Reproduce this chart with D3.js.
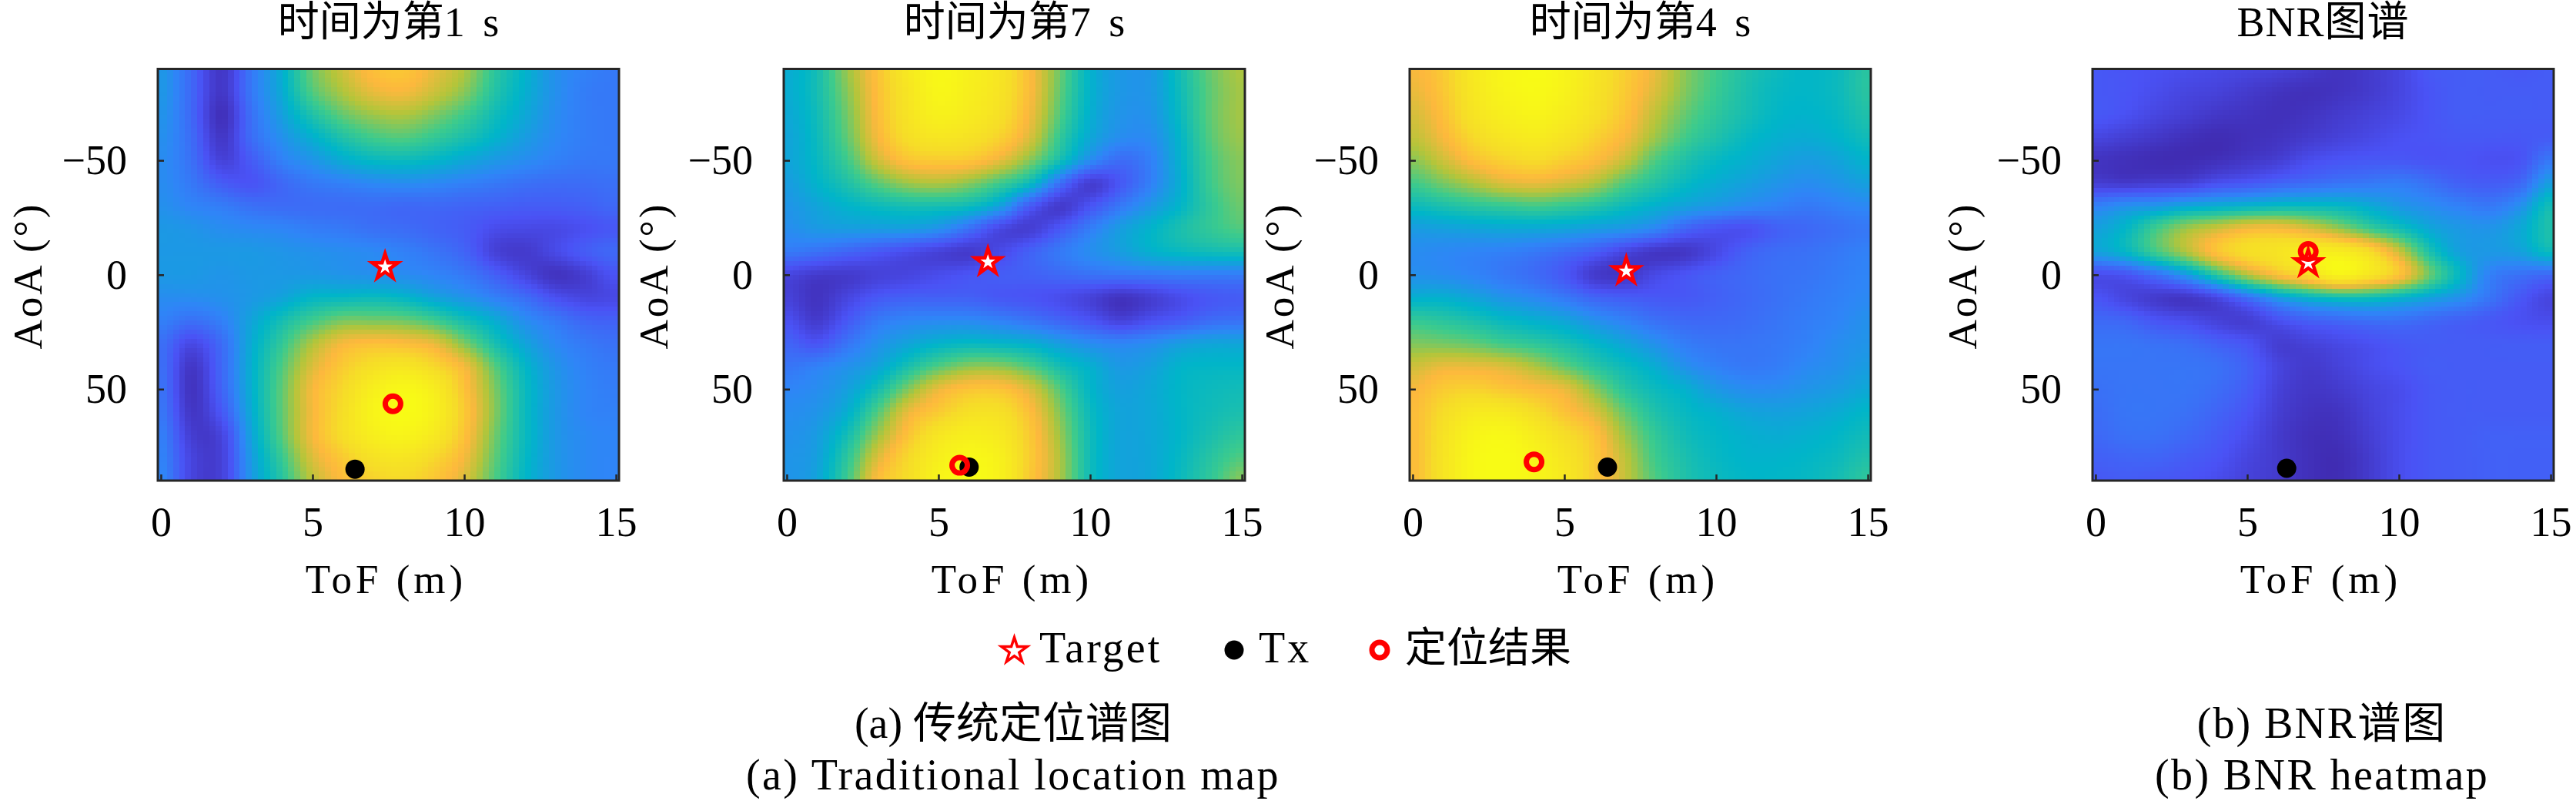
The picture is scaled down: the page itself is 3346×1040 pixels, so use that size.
<!DOCTYPE html>
<html>
<head>
<meta charset="utf-8">
<script src="https://cdn.jsdelivr.net/npm/d3@7"></script>
<style>
  html, body { margin: 0; background: #fff; }
  text { font-family: "Liberation Serif", "Noto Sans CJK SC", serif; fill: #000; }
</style>
</head>
<body>
<script>
// values, 0-100 on the colour scale
// rows go -90 to 90 every 10 deg, columns 0 to 15 every 1 m
const aoaValues = d3.range(-90, 91, 10)
const tofValues = d3.range(0, 16, 1)

const map1s = [
  [30,18,5,22,36,55,66,75,77,70,62,47,37,28,24,22],
  [30,18,5,22,35,52,62,70,72,66,58,45,36,28,23,22],
  [29,18,3,20,32,44,54,60,62,57,50,41,34,27,23,22],
  [28,19,5,19,28,36,44,50,52,48,43,37,31,26,23,22],
  [27,20,8,15,24,29,35,39,40,38,34,30,27,24,22,22],
  [27,22,15,13,18,22,24,26,27,26,24,22,20,19,19,20],
  [28,25,23,20,19,19,19,19,18,18,17,16,15,15,16,18],
  [30,29,27,26,25,23,22,20,19,17,15,11,10,10,12,14],
  [30,30,30,30,29,28,27,26,24,21,17,8,6,10,15,18],
  [30,30,29,30,30,30,29,28,27,25,22,16,9,4,7,13],
  [27,27,28,30,33,38,39,40,38,33,29,24,19,12,9,10],
  [24,20,24,33,42,50,56,56,55,50,42,35,27,22,17,16],
  [20,10,19,35,48,62,72,75,74,70,57,43,33,26,22,20],
  [20,5,18,36,52,68,78,85,88,82,72,53,38,29,24,22],
  [21,4,17,36,54,72,82,93,98,92,76,57,40,30,25,23],
  [22,5,14,35,54,72,84,96,100,94,78,58,40,30,25,24],
  [24,7,9,33,53,72,84,93,96,90,76,56,40,30,26,25],
  [25,9,8,31,49,68,78,86,88,82,72,54,39,30,26,25],
  [26,9,8,30,46,64,74,80,82,77,68,52,38,30,26,25]
]

const map7s = [
  [35,42,60,76,90,98,94,88,74,55,37,30,30,42,55,62],
  [35,42,58,75,88,97,93,87,74,54,37,30,30,41,54,61],
  [34,41,56,74,87,94,91,85,72,52,36,29,29,40,54,61],
  [33,40,54,72,84,88,86,80,68,48,34,27,27,38,53,60],
  [33,39,50,66,76,78,77,70,58,42,27,19,24,37,51,58],
  [31,37,44,53,60,62,58,50,40,20,7,14,24,36,50,57],
  [29,33,37,40,42,42,40,32,15,6,13,22,30,38,48,55],
  [27,30,31,31,31,28,20,10,7,14,23,31,37,43,48,52],
  [22,20,17,14,11,8,6,10,16,22,27,31,36,39,41,42],
  [9,6,6,8,9,11,13,15,16,18,20,21,22,23,23,23],
  [8,4,9,14,16,16,16,14,13,11,8,4,7,11,14,15],
  [12,6,14,22,25,26,26,24,21,17,13,8,12,15,19,20],
  [17,13,21,28,33,37,39,38,36,31,27,25,27,31,33,33],
  [21,24,28,33,43,52,58,58,52,42,36,30,32,37,38,38],
  [25,27,32,42,57,70,76,76,68,52,38,32,34,38,40,41],
  [27,29,36,52,70,78,85,85,75,57,40,33,34,38,41,43],
  [28,31,42,60,76,88,93,90,78,60,41,33,34,38,43,47],
  [29,32,47,68,82,93,98,94,79,62,41,33,34,39,46,52],
  [29,33,50,74,84,96,100,95,78,62,41,33,34,40,48,58]
]

const map4s = [
  [72,78,90,97,100,96,88,79,70,58,50,44,40,38,40,46],
  [70,77,89,96,99,95,87,78,68,57,49,43,39,38,40,46],
  [67,75,87,93,96,92,85,76,64,54,47,42,38,37,39,44],
  [64,72,82,88,91,87,80,72,60,50,44,39,36,35,37,41],
  [58,66,75,80,83,79,74,65,52,44,39,36,33,31,33,37],
  [50,56,62,68,70,67,62,52,45,39,35,32,29,27,29,32],
  [40,43,46,48,50,48,45,40,36,32,29,26,24,22,24,26],
  [31,32,33,34,34,33,31,29,25,17,13,12,16,18,20,22],
  [27,26,25,24,22,19,15,9,5,5,10,16,19,20,22,24],
  [28,27,25,22,19,14,6,5,10,13,16,18,20,21,23,25],
  [36,36,33,29,26,22,17,15,14,14,16,18,20,22,24,26],
  [48,46,43,39,36,33,28,24,20,18,18,19,21,23,25,28],
  [57,56,54,50,47,43,38,33,28,23,21,21,22,24,27,29],
  [66,70,70,68,62,54,46,40,35,28,24,22,23,26,28,31],
  [72,78,80,77,74,70,58,46,40,36,30,27,27,29,31,34],
  [74,83,90,90,84,76,68,54,44,39,36,33,32,33,35,38],
  [74,86,96,98,92,84,76,60,48,41,38,36,35,36,38,41],
  [74,87,98,100,96,88,78,64,50,43,39,37,37,38,40,44],
  [74,87,98,100,97,90,78,65,52,44,40,38,38,39,42,47]
]

const mapBnr = [
  [14,13,12,11,10,9,8,6,4,6,9,14,15,15,14,15],
  [14,13,11,9,8,6,4,3,4,6,9,13,15,15,15,15],
  [14,12,9,7,5,4,3,4,6,8,10,13,15,15,15,15],
  [9,7,5,3,2,3,4,6,8,10,12,13,14,14,14,15],
  [4,3,2,2,3,5,7,11,13,14,14,13,13,12,13,22],
  [7,6,7,8,12,14,17,19,21,22,23,20,16,15,18,32],
  [24,28,30,34,36,38,40,40,39,35,30,27,24,22,28,42],
  [32,38,50,60,66,72,73,68,60,50,42,34,30,29,34,44],
  [32,38,50,62,76,84,87,92,92,84,66,44,32,30,32,40],
  [11,13,20,30,46,62,74,84,95,88,76,55,38,24,20,18],
  [13,9,6,5,10,20,31,38,42,42,38,33,28,21,14,9],
  [18,17,13,11,8,7,12,16,18,20,20,18,16,14,12,11],
  [21,21,20,19,16,13,7,8,10,12,14,15,15,15,15,15],
  [21,21,21,21,20,16,9,6,8,11,13,15,15,15,15,15],
  [20,21,21,21,19,15,8,5,6,9,11,14,15,15,15,15],
  [19,21,21,20,17,13,7,4,4,8,11,14,15,15,15,15],
  [18,20,20,18,15,11,6,3,3,7,11,14,15,16,16,16],
  [16,17,17,15,13,9,6,3,2,6,11,14,15,16,16,16],
  [14,15,14,13,11,8,6,3,2,6,11,14,15,16,16,16]
]

const panelTitles = ['时间为第1 s', '时间为第7 s', '时间为第4 s', 'BNR图谱']
const panelMaps = [map1s, map7s, map4s, mapBnr]

const targetTof = [7.39, 6.63, 7.04, 7.01]
const targetAoa = [-3.4, -5.6, -1.6, -5.1]
const txTof = [6.4, 6.01, 6.42, 6.3]
const txAoa = [85, 84.1, 84.1, 84.6]
const resultTof = [7.65, 5.7, 4.0, 7.01]
const resultAoa = [56.4, 83.3, 81.8, -10.2]

const xTicks = [0, 5, 10, 15]
const yTicks = [-50, 0, 50]
const xLabel = 'ToF (m)'
const yLabel = 'AoA (°)'

const legendLabels = ['Target', 'Tx', '定位结果']
const captionsA = ['(a) 传统定位谱图', '(a) Traditional location map']
const captionsB = ['(b) BNR谱图', '(b) BNR heatmap']

// parula, more orange than the stock one and yellow sooner
const colorDomain = [0, 12.5, 25, 37.5, 50, 62.5, 73, 83, 100]
const colorStops = ['#3e26a8', '#4a52f5', '#2f85f7', '#00b5c9', '#3dcb8c', '#b4c53a', '#fdb83d', '#f6dc28', '#f8fb15']
const color = d3.scaleLinear()
  .domain(colorDomain)
  .range(colorStops)
  .clamp(true)

const width = 3346
const height = 1040
const panelLefts = [205, 1018, 1831, 2718]
const panelWidth = 599
const panelTop = 89.5
const panelBottom = 624

const svg = d3.select('body').append('svg')
  .attr('width', width)
  .attr('height', height)
  .style('display', 'block')

const star = d3.symbol().type(d3.symbolStar).size(340)()

// shading between the read grid values, same look as the smooth imagesc
function shade(grid, steps) {
  const cr = (p0, p1, p2, p3, t) => 0.5 * (2 * p1 + (p2 - p0) * t + (2 * p0 - 5 * p1 + 4 * p2 - p3) * t * t + (3 * p1 - p0 - 3 * p2 + p3) * t * t * t)
  const rows = grid.length
  const cols = grid[0].length
  const at = (r, c) => grid[Math.max(0, Math.min(rows - 1, r))][Math.max(0, Math.min(cols - 1, c))]
  const cells = []
  for (let r = 0; r < (rows - 1) * steps; r++) {
    for (let c = 0; c < (cols - 1) * steps; c++) {
      const rr = Math.floor(r / steps), tr = (r + 0.5) / steps - rr
      const cc = Math.floor(c / steps), tc = (c + 0.5) / steps - cc
      const line = [-1, 0, 1, 2].map(i => cr(at(rr + i, cc - 1), at(rr + i, cc), at(rr + i, cc + 1), at(rr + i, cc + 2), tc))
      cells.push({
        tof0: tofValues[0] + c / steps,
        tof1: tofValues[0] + (c + 1) / steps,
        aoa0: aoaValues[0] + r * 10 / steps,
        aoa1: aoaValues[0] + (r + 1) * 10 / steps,
        value: cr(line[0], line[1], line[2], line[3], tr)
      })
    }
  }
  return cells
}

panelTitles.forEach(function(title, i) {
  const left = panelLefts[i]
  const x = d3.scaleLinear().domain([-0.1, 15.1]).range([0, panelWidth])
  const y = d3.scaleLinear().domain([-90, 90]).range([0, panelBottom - panelTop])

  const g = svg.append('g')
    .attr('transform', `translate(${left},${panelTop})`)

  // left/right slivers outside 0-15 get the edge colour
  g.append('g')
    .attr('shape-rendering', 'crispEdges')
    .selectAll('rect')
    .data(shade(panelMaps[i], 5))
    .enter().append('rect')
    .attr('x', d => d.tof0 === 0 ? 0 : x(d.tof0))
    .attr('y', d => y(d.aoa0))
    .attr('width', d => (d.tof1 >= 15 ? panelWidth : x(d.tof1)) - (d.tof0 === 0 ? 0 : x(d.tof0)) + 0.5)
    .attr('height', d => y(d.aoa1) - y(d.aoa0) + 0.5)
    .attr('fill', d => color(d.value))

  g.append('circle')
    .attr('cx', x(txTof[i]))
    .attr('cy', y(txAoa[i]))
    .attr('r', 12.5)
    .attr('fill', '#000')

  g.append('path')
    .attr('d', star)
    .attr('transform', `translate(${x(targetTof[i])},${y(targetAoa[i])})`)
    .attr('fill', '#fff')
    .attr('stroke', '#f00')
    .attr('stroke-width', 4.5)
    .attr('stroke-miterlimit', 10)

  g.append('circle')
    .attr('cx', x(resultTof[i]))
    .attr('cy', y(resultAoa[i]))
    .attr('r', 10)
    .attr('fill', 'none')
    .attr('stroke', '#f00')
    .attr('stroke-width', 7)

  const xAxis = d3.axisBottom(x)
    .tickValues(xTicks)
    .tickFormat(d3.format('d'))
    .tickSizeInner(-8)
    .tickSizeOuter(0)
    .tickPadding(34)
  const yAxis = d3.axisLeft(y)
    .tickValues(yTicks)
    .tickFormat(d3.format('d'))
    .tickSizeInner(-8)
    .tickSizeOuter(0)
    .tickPadding(40)

  const xG = g.append('g')
    .attr('transform', `translate(0,${panelBottom - panelTop})`)
    .call(xAxis)
  const yG = g.append('g').call(yAxis)
  ;[xG, yG].forEach(function(a) {
    a.select('.domain').remove()
    a.selectAll('line').attr('stroke', '#262626').attr('stroke-width', 2.5)
    a.selectAll('text')
      .attr('font-size', 54)
      .attr('font-family', '"Liberation Serif", "Noto Sans CJK SC", serif')
      .attr('fill', '#000')
  })

  g.append('rect')
    .attr('width', panelWidth)
    .attr('height', panelBottom - panelTop)
    .attr('fill', 'none')
    .attr('stroke', '#262626')
    .attr('stroke-width', 3)

  g.append('text')
    .attr('x', panelWidth / 2)
    .attr('y', 47 - panelTop)
    .attr('text-anchor', 'middle')
    .attr('font-size', 54)
    .attr('word-spacing', 10)
    .attr('letter-spacing', i === 3 ? 1 : 0)
    .text(title)

  g.append('text')
    .attr('x', panelWidth / 2 - 3)
    .attr('y', 770 - panelTop)
    .attr('text-anchor', 'middle')
    .attr('font-size', 53)
    .attr('letter-spacing', 5)
    .text(xLabel)

  g.append('text')
    .attr('transform', `translate(-151,${358 - panelTop}) rotate(-90)`)
    .attr('text-anchor', 'middle')
    .attr('font-size', 53)
    .attr('letter-spacing', 3)
    .text(yLabel)
})

// legend
const legendG = svg.append('g')
legendG.append('path')
  .attr('d', star)
  .attr('transform', 'translate(1317.5,845)')
  .attr('fill', '#fff')
  .attr('stroke', '#f00')
  .attr('stroke-width', 3.5)
  .attr('stroke-miterlimit', 10)
legendG.append('circle')
  .attr('cx', 1603).attr('cy', 844).attr('r', 12.5)
  .attr('fill', '#000')
legendG.append('circle')
  .attr('cx', 1792).attr('cy', 844).attr('r', 10)
  .attr('fill', 'none')
  .attr('stroke', '#f00')
  .attr('stroke-width', 7)

const legendTextX = [1350, 1635, 1825]
legendG.selectAll('text')
  .data(legendLabels)
  .enter().append('text')
  .attr('x', (d, i) => legendTextX[i])
  .attr('y', 860)
  .attr('font-size', (d, i) => i === 2 ? 54 : 56)
  .attr('letter-spacing', (d, i) => i === 2 ? 0 : 3)
  .text(d => d)

// captions under the figures
const captionRows = [958, 1025]
const captionSpacingA = [0, 2.4]
const captionSpacingB = [2, 2.4]
captionsA.forEach(function(t, i) {
  svg.append('text')
    .attr('x', 1316)
    .attr('y', captionRows[i])
    .attr('text-anchor', 'middle')
    .attr('font-size', 56)
    .attr('letter-spacing', captionSpacingA[i])
    .text(t)
})
captionsB.forEach(function(t, i) {
  svg.append('text')
    .attr('x', 3016)
    .attr('y', captionRows[i])
    .attr('text-anchor', 'middle')
    .attr('font-size', 56)
    .attr('letter-spacing', captionSpacingB[i])
    .text(t)
})
</script>
</body>
</html>
